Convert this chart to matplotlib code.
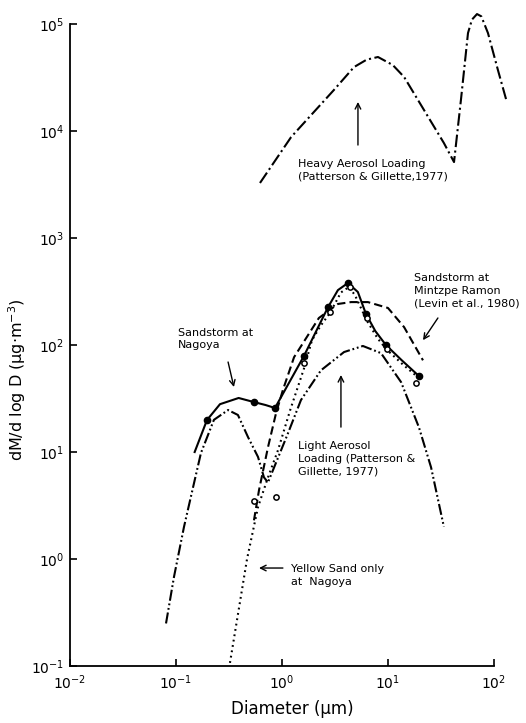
import matplotlib
matplotlib.use("Agg")
import matplotlib.pyplot as plt
from matplotlib.ticker import NullLocator

plt.rcParams['font.family'] = ['DejaVu Sans']
plt.rcParams['mathtext.default'] = 'regular'
plt.rcParams['lines.scale_dashes'] = False

# ---------------- data ----------------
heavy_d = [0.62, 1.22, 3.09, 4.78, 6.3, 8.05, 11.1, 14.2, 21.9, 33.7, 42, 48.8, 56.9, 62, 69.2, 76, 87.8, 109, 130]
heavy_v = [3270, 8790, 24200, 39600, 46500, 49200, 41400, 32000, 15700, 7730, 5130, 19500, 82400, 110000, 124000, 118000, 82400, 37200, 19900]

light_d = [0.0805, 0.0957, 0.119, 0.145, 0.172, 0.228, 0.31, 0.384, 0.478, 0.594, 0.676, 0.738, 1.14, 1.51, 2.33, 3.85, 5.8, 8.6, 13.3, 19.6, 25.5, 33.7]
light_v = [0.25, 0.68, 2.0, 4.7, 9.8, 20, 24.7, 22.2, 13.8, 9.0, 5.8, 5.2, 15, 30.6, 58, 86, 98, 84, 45, 17, 7.2, 2.0]

levin_d = [0.544, 0.607, 0.738, 0.878, 1.02, 1.30, 2.23, 3.37, 4.48, 6.47, 10, 14.2, 21.4]
levin_v = [2.3, 4.4, 11.1, 23, 38, 77, 179, 242, 252, 252, 222, 147, 72]

storm_curve_d = [0.15, 0.196, 0.26, 0.39, 0.544, 0.70, 0.859, 1.61, 2.72, 3.37, 4.19, 5.2, 6.2, 7.6, 9.57, 13.5, 19.6]
storm_curve_v = [10, 19.9, 28, 32, 29.3, 27.5, 25.8, 78.9, 226, 326, 380, 313, 195, 135, 100, 72, 51.3]
storm_dot_d = [0.196, 0.544, 0.859, 1.61, 2.72, 4.19, 6.2, 9.57, 19.6]
storm_dot_v = [19.9, 29.3, 25.8, 78.9, 226, 380, 195, 100, 51.3]

yellow_d = [0.323, 0.468, 0.594, 0.738, 0.917, 1.2, 1.61, 1.92, 2.3, 2.84, 3.6, 4.3, 4.9, 6.3, 8.0, 9.8, 14, 19.2]
yellow_v = [0.107, 1.0, 3.06, 5.8, 10.4, 25, 60, 111, 150, 200, 310, 350, 290, 170, 115, 90, 65, 50]
yellow_pt_d = [0.544, 0.877, 1.61, 2.84, 4.38, 6.33, 9.8, 18.4]
yellow_pt_v = [3.48, 3.8, 68, 203, 348, 179, 92, 44]

x_ticks = [1e-2, 1e-1, 1, 10, 100]
y_ticks = [1e-1, 1, 10, 100, 1e3, 1e4, 1e5]

# ---------------- figure ----------------
fig = plt.figure(figsize=(5.26, 7.23), dpi=100)
ax = fig.add_axes([0.1331, 0.0788, 0.846, 0.914])
ax.set_xscale('log')
ax.set_yscale('log')
ax.set_xlim(0.01, 158)
ax.set_ylim(0.1, 1.5e5)

lw = 1.5
ax.plot(heavy_d, heavy_v, color='black', lw=lw, linestyle=(0, (9, 2.5, 1.5, 2.5)))
ax.plot(light_d, light_v, color='black', lw=lw, linestyle=(0, (8, 2, 1.3, 2, 1.3, 2)))
ax.plot(levin_d, levin_v, color='black', lw=lw, linestyle=(0, (6, 3)))
ax.plot(storm_curve_d, storm_curve_v, color='black', lw=lw, linestyle='-')
ax.plot(storm_dot_d, storm_dot_v, linestyle='none', marker='o', ms=4.5, mfc='black', mec='black')
ax.plot(yellow_d, yellow_v, color='black', lw=lw, linestyle=(0, (1.3, 2.6)))
ax.plot(yellow_pt_d, yellow_pt_v, linestyle='none', marker='o', ms=3.8, mfc='white', mec='black', mew=1.1)

# spines & ticks
for s in ['top', 'right']:
    ax.spines[s].set_visible(False)
ax.spines['left'].set_bounds(0.1, 1e5)
ax.spines['bottom'].set_bounds(0.01, 100)
ax.spines['left'].set_linewidth(1.3)
ax.spines['bottom'].set_linewidth(1.3)
ax.set_xticks(x_ticks)
ax.set_yticks(y_ticks)
ax.xaxis.set_minor_locator(NullLocator())
ax.yaxis.set_minor_locator(NullLocator())
ax.tick_params(direction='in', length=5, width=1.2, labelsize=10)
ax.tick_params(axis='x', pad=5)
ax.tick_params(axis='y', pad=4)

ax.set_xlabel('Diameter (μm)', fontsize=12, labelpad=6)
ax.set_ylabel('dM/d log D (μg·m$^{-3}$)', fontsize=11.5)
ax.yaxis.set_label_coords(-0.094, 0.433)

fs = 8
arrow = dict(arrowstyle='->', color='black', lw=1.0, shrinkA=0, shrinkB=0)
ax.annotate('', xy=(5.21, 18700), xytext=(5.21, 7400), arrowprops=arrow)
ax.text(1.42, 4280, 'Heavy Aerosol Loading\n(Patterson & Gillette,1977)', fontsize=fs, va='center', ha='left', linespacing=1.35)

ax.annotate('', xy=(0.352, 40.5), xytext=(0.31, 69.4), arrowprops=arrow)
ax.text(0.1045, 114, 'Sandstorm at\nNagoya', fontsize=fs, va='center', ha='left', linespacing=1.35)

ax.annotate('', xy=(21.4, 111), xytext=(29.6, 179), arrowprops=arrow)
ax.text(17.6, 320, 'Sandstorm at\nMintzpe Ramon\n(Levin et al., 1980)', fontsize=fs, va='center', ha='left', linespacing=1.35)

ax.annotate('', xy=(3.6, 52.5), xytext=(3.6, 17.1), arrowprops=arrow)
ax.text(1.42, 8.6, 'Light Aerosol\nLoading (Patterson &\nGillette, 1977)', fontsize=fs, va='center', ha='left', linespacing=1.35)

ax.annotate('', xy=(0.607, 0.824), xytext=(1.02, 0.824), arrowprops=arrow)
ax.text(1.22, 0.70, 'Yellow Sand only\nat  Nagoya', fontsize=fs, va='center', ha='left', linespacing=1.35)

fig.savefig('out.png', dpi=100)
